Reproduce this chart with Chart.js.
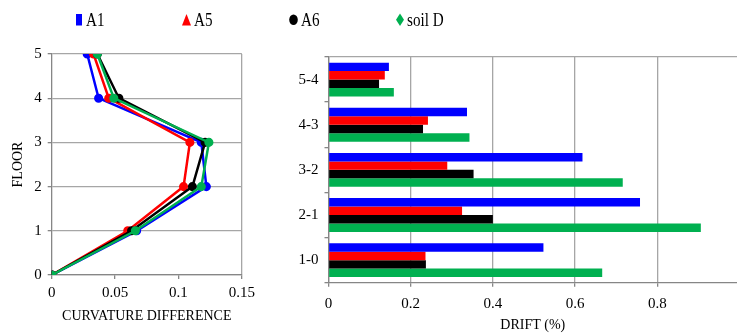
<!DOCTYPE html>
<html>
<head>
<meta charset="utf-8">
<script src="https://cdn.jsdelivr.net/npm/chart.js@4"></script>
<style>
  html, body { margin: 0; padding: 0; background: #fff; overflow: hidden; }
  #wrap { position: relative; width: 737px; height: 335px; }
  #leftBox { position: absolute; left: 0; top: 0; width: 260px; height: 335px; }
  #rightBox { position: absolute; left: 260px; top: 0; width: 477px; height: 335px; }
  .leg { position: absolute; top: 8px; height: 22px; font-family: "Liberation Serif", "Times New Roman", serif; font-size: 18px; line-height: 20px; color: #000; z-index: 2; white-space: nowrap; }
  .leg svg { position: absolute; top: 5px; left: 0; }
  .leg span { position: absolute; top: 2px; display: inline-block; transform: scaleX(0.84); transform-origin: left center; }
</style>
</head>
<body>
<div id="wrap">
  <div class="leg" style="left:76px"><svg width="8" height="14"><rect x="0" y="1" width="6" height="11.5" fill="#0000ff"/></svg><span style="left:10px">A1</span></div>
  <div class="leg" style="left:182px"><svg width="10" height="14"><polygon points="4.5,1 9,12.5 0,12.5" fill="#ff0000"/></svg><span style="left:12px">A5</span></div>
  <div class="leg" style="left:289px"><svg width="10" height="14"><ellipse cx="4.5" cy="6.8" rx="4.3" ry="5.3" fill="#000"/></svg><span style="left:12px">A6</span></div>
  <div class="leg" style="left:396px"><svg width="10" height="14"><polygon points="4,0.5 8,6.8 4,13 0,6.8" fill="#00b050"/></svg><span style="left:11px">soil D</span></div>
  <div id="leftBox"><canvas id="curv"></canvas></div>
  <div id="rightBox"><canvas id="drift"></canvas></div>
</div>
<script>
// left panel: curvature difference per floor
const floors = [0, 1, 2, 3, 4, 5];
const curvA1 = [0, 0.067, 0.122, 0.118, 0.037, 0.028];
const curvA5 = [0, 0.060, 0.104, 0.109, 0.045, 0.033];
const curvA6 = [0, 0.063, 0.111, 0.121, 0.053, 0.036];
const curvSoilD = [0, 0.066, 0.118, 0.124, 0.049, 0.036];

// right panel: inter-storey drift (%)
const storeys = ['5-4', '4-3', '3-2', '2-1', '1-0'];
const driftA1 = [0.147, 0.337, 0.618, 0.758, 0.523];
const driftA5 = [0.137, 0.242, 0.289, 0.325, 0.236];
const driftA6 = [0.123, 0.230, 0.353, 0.400, 0.237];
const driftSoilD = [0.159, 0.343, 0.716, 0.906, 0.666];

const seriesNames = ['A1', 'A5', 'A6', 'soil D'];
const seriesColors = ['#0000ff', '#ff0000', '#000000', '#00b050'];

const serif = '"Liberation Serif", "Times New Roman", serif';
const gridGrey = '#a6a6a6';
const axisGrey = '#868686';

Chart.defaults.font.family = serif;
Chart.defaults.color = '#000';
Chart.defaults.animation = false;

// ---- left chart ----
const curvSets = [curvA1, curvA5, curvA6, curvSoilD];
new Chart(document.getElementById('curv'), {
  type: 'line',
  data: {
    datasets: curvSets.map((vals, i) => ({
      label: seriesNames[i],
      data: vals.map((v, k) => ({ x: v, y: floors[k] })),
      borderColor: seriesColors[i],
      backgroundColor: seriesColors[i],
      pointBackgroundColor: seriesColors[i],
      pointBorderColor: seriesColors[i],
      borderWidth: 2.5,
      pointRadius: 3.3,
      tension: 0,
      order: 3 - i // green ends up on top
    }))
  },
  options: {
    responsive: true,
    maintainAspectRatio: false,
    layout: { padding: { top: 54, right: 17.7, bottom: 0, left: 0 } },
    plugins: { legend: { display: false }, tooltip: { enabled: false } },
    scales: {
      x: {
        type: 'linear',
        min: 0, max: 0.15,
        afterFit: s => { s.height = 60; },
        ticks: {
          stepSize: 0.05,
          font: { size: 15 },
          padding: 5,
          callback: v => String(+v.toFixed(2))
        },
        grid: {
          color: c => (c.tick && Math.abs(c.tick.value - 0.15) < 1e-9) ? gridGrey : 'transparent',
          tickColor: axisGrey,
          tickLength: 4,
          lineWidth: 1.3
        },
        border: { color: axisGrey, width: 1.3 },
        title: { display: true, text: 'CURVATURE DIFFERENCE', font: { size: 14 }, padding: { top: 0, bottom: 10 } }
      },
      y: {
        type: 'linear',
        min: 0, max: 5,
        afterFit: s => { s.width = 51.7; },
        ticks: { stepSize: 1, font: { size: 15 }, padding: 6 },
        grid: { color: gridGrey, tickColor: axisGrey, tickLength: 4, lineWidth: 1.3 },
        border: { color: axisGrey, width: 1.3 },
        title: { display: true, text: 'FLOOR', font: { size: 14 }, padding: { top: 10, bottom: 0 } }
      }
    }
  }
});

// ---- right chart ----
const driftSets = [driftA1, driftA5, driftA6, driftSoilD];
new Chart(document.getElementById('drift'), {
  type: 'bar',
  data: {
    labels: storeys,
    datasets: driftSets.map((vals, i) => ({
      label: seriesNames[i],
      data: vals,
      backgroundColor: seriesColors[i],
      borderWidth: 0,
      categoryPercentage: 0.75,
      barPercentage: 1
    }))
  },
  options: {
    indexAxis: 'y',
    responsive: true,
    maintainAspectRatio: false,
    layout: { padding: { top: 57, right: 0, bottom: 0, left: 0 } },
    plugins: { legend: { display: false }, tooltip: { enabled: false } },
    scales: {
      x: {
        type: 'linear',
        min: 0, max: 0.994,
        afterFit: s => { s.height = 52.3; },
        afterBuildTicks: s => { s.ticks = s.ticks.filter(t => t.value <= 0.8 + 1e-9); },
        ticks: {
          stepSize: 0.2,
          font: { size: 15 },
          padding: 8,
          callback: v => String(+v.toFixed(1))
        },
        grid: { color: gridGrey, tickColor: axisGrey, tickLength: 4, lineWidth: 1.3 },
        border: { color: axisGrey, width: 1.3 },
        title: { display: true, text: 'DRIFT (%)', font: { size: 14 }, padding: { top: 0, bottom: 1 } }
      },
      y: {
        type: 'category',
        offset: true,
        afterFit: s => { s.width = 68.5; },
        ticks: { font: { size: 15 }, padding: 6 },
        grid: {
          offset: true,
          color: c => c.index === 0 ? gridGrey : 'transparent',
          tickColor: axisGrey,
          tickLength: 4,
          lineWidth: 1.3
        },
        border: { color: axisGrey, width: 1.3 }
      }
    }
  }
});
</script>
</body>
</html>
